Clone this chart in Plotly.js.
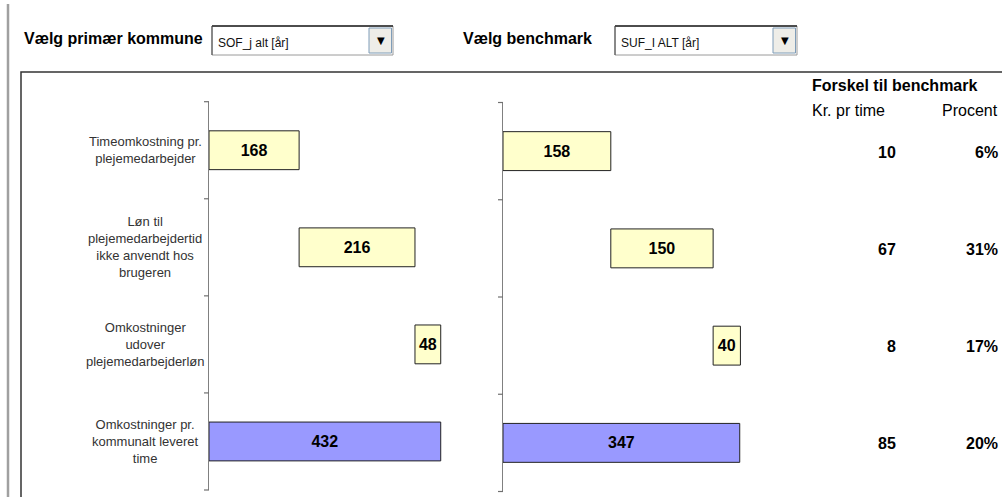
<!DOCTYPE html>
<html><head><meta charset="utf-8">
<script src="https://cdn.plot.ly/plotly-3.0.1.min.js"></script>
<style>html,body{margin:0;padding:0;background:#fff;} #chart{width:1002px;height:497px;}</style>
</head><body><div id="chart"></div>
<script>
// ---- data ----
const categories = [
  "Timeomkostning pr.<br>plejemedarbejder",
  "Løn til<br>plejemedarbejdertid<br>ikke anvendt hos<br>brugeren",
  "Omkostninger<br>udover<br>plejemedarbejderløn",
  "Omkostninger pr.<br>kommunalt leveret<br>time"
];
const measures = ["relative", "relative", "relative", "total"];
const primaryValues = [168, 216, 48, 432];
const benchmarkValues = [158, 150, 40, 347];
const diffKr = [10, 67, 8, 85];
const diffPct = ["6%", "31%", "17%", "20%"];
const primaryName = "SOF_j alt [år]";
const benchmarkName = "SUF_I ALT [år]";
const primaryLabel = "Vælg primær kommune";
const benchmarkLabel = "Vælg benchmark";
const tableTitle = "Forskel til benchmark";
const tableCols = ["Kr. pr time", "Procent"];

// ---- helpers ----
const W = 1002, H = 497;
const px = x => x / W;
const py = y => 1 - y / H;
function bases(vals, meas) {
  let run = 0;
  return vals.map((v, i) => {
    if (meas[i] === "total") return 0;
    const b = run; run += v; return b;
  });
}
const SANS = "'Liberation Sans', Arial, sans-serif";
const YELLOW = "#FFFFCC", BLUE = "#9999FF";

function barTrace(vals, xa, ya) {
  return {
    type: "bar", orientation: "h",
    y: categories, x: vals, base: bases(vals, measures),
    xaxis: xa, yaxis: ya, width: 0.4,
    marker: { color: measures.map(m => m === "total" ? BLUE : YELLOW), line: { color: "#222", width: 1 } },
    text: vals.map(v => "<b>" + v + "</b>"),
    textposition: "inside", insidetextanchor: "middle", constraintext: "none", textangle: 0,
    textfont: { family: SANS, size: 16, color: "#000" },
    insidetextfont: { family: SANS, size: 16, color: "#000" },
    hoverinfo: "skip", cliponaxis: false
  };
}

const yBase = {
  type: "category", categoryorder: "array", categoryarray: categories,
  range: [3.5, -0.5], showline: true, linecolor: "#808080", linewidth: 1,
  ticks: "", showticklabels: false,
  showgrid: false, zeroline: false, fixedrange: true
};

const xDom1 = [px(209), px(477.2)];
const xDom2 = [px(503), px(775.9)];
const yDom1 = [1 - 490 / H, 1 - 101.7 / H];
const yDom2 = [1 - 491.5 / H, 1 - 102.5 / H];

const annotations = [];
categories.forEach((c, i) => {
  annotations.push({ xref: "paper", yref: "y", x: px(145), y: c, text: c, showarrow: false,
    xanchor: "center", yanchor: "middle", align: "center",
    font: { family: SANS, size: 13, color: "#333" } });
  annotations.push({ xref: "paper", yref: "y", x: px(898), y: c, yshift: -2, text: "<b>" + diffKr[i] + "</b>",
    showarrow: false, xanchor: "right", yanchor: "middle", font: { family: SANS, size: 16, color: "#000" } });
  annotations.push({ xref: "paper", yref: "y", x: px(1000), y: c, yshift: -2, text: "<b>" + diffPct[i] + "</b>",
    showarrow: false, xanchor: "right", yanchor: "middle", font: { family: SANS, size: 16, color: "#000" } });
});
annotations.push(
  { xref: "paper", yref: "paper", x: px(810), y: py(85), text: "<b>" + tableTitle + "</b>", showarrow: false,
    xanchor: "left", yanchor: "middle", font: { family: SANS, size: 16, color: "#000" } },
  { xref: "paper", yref: "paper", x: px(810), y: py(110), text: tableCols[0], showarrow: false,
    xanchor: "left", yanchor: "middle", font: { family: SANS, size: 16, color: "#000" } },
  { xref: "paper", yref: "paper", x: px(1000), y: py(110), text: tableCols[1], showarrow: false,
    xanchor: "right", yanchor: "middle", font: { family: SANS, size: 16, color: "#000" } },
  { xref: "paper", yref: "paper", x: px(22), y: py(38.5), text: "<b>" + primaryLabel + "</b>", showarrow: false,
    xanchor: "left", yanchor: "middle", font: { family: SANS, size: 16, color: "#000" } },
  { xref: "paper", yref: "paper", x: px(461), y: py(38.5), text: "<b>" + benchmarkLabel + "</b>", showarrow: false,
    xanchor: "left", yanchor: "middle", font: { family: SANS, size: 16, color: "#000" } },
  { xref: "paper", yref: "paper", x: px(216), y: py(43), text: primaryName, showarrow: false,
    xanchor: "left", yanchor: "middle", font: { family: SANS, size: 12, color: "#111" } },
  { xref: "paper", yref: "paper", x: px(619), y: py(43), text: benchmarkName, showarrow: false,
    xanchor: "left", yanchor: "middle", font: { family: SANS, size: 12, color: "#111" } },
  { xref: "paper", yref: "paper", x: px(380.5), y: py(40.5), text: "▼", showarrow: false,
    xanchor: "center", yanchor: "middle", font: { family: "DejaVu Sans", size: 10, color: "#000" } },
  { xref: "paper", yref: "paper", x: px(784.5), y: py(40.5), text: "▼", showarrow: false,
    xanchor: "center", yanchor: "middle", font: { family: "DejaVu Sans", size: 10, color: "#000" } }
);

function dropdown(x0, x1, y0, y1) {
  return [
    { type: "rect", xref: "paper", yref: "paper", x0: px(x0), x1: px(x1), y0: py(y1), y1: py(y0),
      fillcolor: "#fff", line: { color: "#9a9a9a", width: 1 }, layer: "below" },
    { type: "line", xref: "paper", yref: "paper", x0: px(x0), x1: px(x1), y0: py(y0), y1: py(y0),
      line: { color: "#222", width: 1.5 } },
    { type: "line", xref: "paper", yref: "paper", x0: px(x0), x1: px(x0), y0: py(y0), y1: py(y1),
      line: { color: "#444", width: 1 } },
    { type: "rect", xref: "paper", yref: "paper", x0: px(x1 - 24), x1: px(x1 - 1.5), y0: py(y1 - 2), y1: py(y0 + 2),
      fillcolor: "#EEEDE8", line: { color: "#7F9DB9", width: 1 } }
  ];
}

// axis tick marks at the category boundaries (one per band edge), left of each axis line
function tickShapes(xDom, yDom) {
  const n = categories.length;
  const out = [];
  for (let i = 0; i <= n; i++) {
    const y = yDom[1] - (yDom[1] - yDom[0]) * i / n;
    out.push({ type: "line", xref: "paper", yref: "paper", x0: xDom[0] - 5 / W, x1: xDom[0],
      y0: y, y1: y, line: { color: "#707070", width: 1.2 } });
  }
  return out;
}

const shapes = [
  { type: "line", xref: "paper", yref: "paper", x0: px(8), x1: px(8), y0: py(4), y1: -0.05,
    line: { color: "#a0a0a0", width: 2.5 } },
  { type: "rect", xref: "paper", yref: "paper", x0: px(21), x1: 1.05, y0: -0.05, y1: py(72),
    line: { color: "#333", width: 1.5 }, layer: "below" },
  ...dropdown(212, 393, 26, 55),
  ...dropdown(615, 797, 26, 55),
  ...tickShapes(xDom1, yDom1),
  ...tickShapes(xDom2, yDom2)
];

const layout = {
  width: W, height: H, margin: { l: 0, r: 0, t: 0, b: 0 },
  paper_bgcolor: "#fff", plot_bgcolor: "rgba(0,0,0,0)", showlegend: false, barmode: "overlay",
  xaxis: { domain: xDom1, range: [0, 500], visible: false, fixedrange: true, anchor: "y" },
  yaxis: Object.assign({}, yBase, { domain: yDom1, anchor: "x" }),
  xaxis2: { domain: xDom2, range: [0, 400], visible: false, fixedrange: true, anchor: "y2" },
  yaxis2: Object.assign({}, yBase, { domain: yDom2, anchor: "x2" }),
  annotations: annotations, shapes: shapes
};

Plotly.newPlot("chart", [barTrace(primaryValues, "x", "y"), barTrace(benchmarkValues, "x2", "y2")], layout,
  { staticPlot: true, displayModeBar: false });
</script>
</body></html>
